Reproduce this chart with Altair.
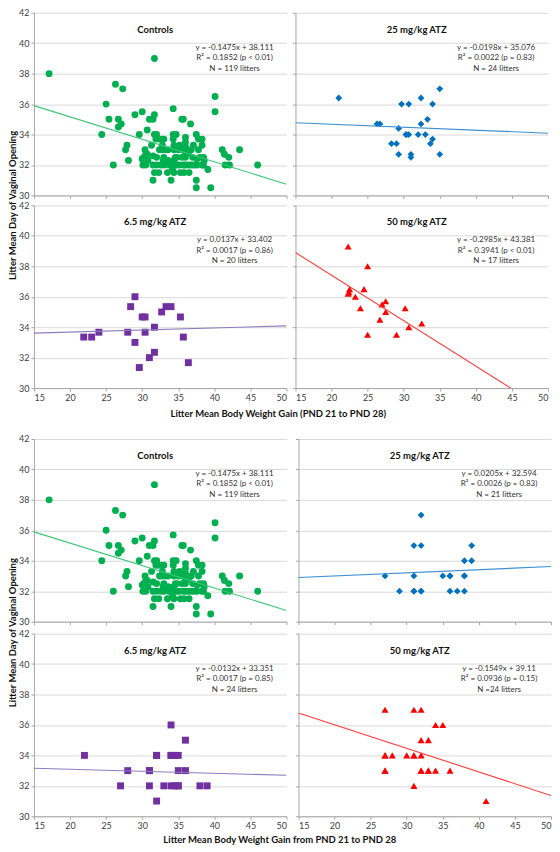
import altair as alt
import pandas as pd

FONT = "Lato"

# ---------------- data ----------------
ctrl_x = [17.1, 31.7, 26.3, 27.3, 25.0, 40.1, 40.1, 25.4, 24.4, 26.7,
          26.7, 27.1, 29.0, 30.0, 29.6, 30.7, 31.0, 31.7, 31.5, 34.3,
          35.5, 35.7, 36.7, 27.9, 27.7, 28.1, 26.0, 30.0, 30.4, 30.5,
          30.5, 30.2, 31.5, 31.7, 32.0, 32.3, 32.7, 33.0, 31.5, 31.5,
          32.0, 32.4, 32.6, 33.0, 33.0, 32.7, 33.2, 33.5, 34.0, 34.2,
          33.6, 34.3, 34.3, 34.4, 34.4, 34.4, 34.6, 34.8, 34.1, 35.1,
          35.3, 35.8, 36.0, 36.0, 36.0, 36.0, 36.0, 36.4, 36.8, 37.0,
          36.4, 36.8, 37.5, 37.8, 38.3, 38.3, 37.5, 37.5, 39.5, 37.6,
          38.0, 38.5, 37.6, 38.3, 38.5, 39.1, 41.1, 41.4, 42.0, 41.5,
          42.1, 43.5, 46.0, 31.7, 32.3, 35.2, 35.6, 35.5, 33.6, 32.0,
          30.8, 32.8, 31.9, 37.1, 37.8, 35.7, 34.4, 36.5, 35.0, 32.9,
          38.6, 31.3, 30.7, 34.8, 36.0, 34.7, 33.7, 37.2, 30.1]
ctrl_y = [38.0, 39.0, 37.3, 37.0, 36.0, 36.5, 35.5, 35.0, 34.0, 35.0,
          34.5, 34.7, 35.3, 35.5, 34.0, 34.3, 35.0, 35.3, 35.0, 35.7,
          35.0, 35.0, 34.7, 33.3, 33.0, 32.3, 32.0, 32.4, 33.0, 32.7,
          32.0, 32.5, 31.0, 34.0, 34.0, 33.7, 33.7, 33.7, 32.6, 32.0,
          32.0, 33.0, 32.0, 32.0, 32.5, 33.0, 33.0, 31.5, 31.0, 31.7,
          33.0, 34.0, 33.7, 33.3, 33.0, 32.3, 32.5, 32.0, 32.0, 32.0,
          31.5, 31.5, 33.5, 33.2, 32.8, 32.5, 32.0, 32.8, 33.0, 32.5,
          32.0, 32.0, 34.0, 33.7, 33.7, 33.3, 31.0, 30.5, 30.5, 32.4,
          32.5, 32.5, 32.0, 32.0, 32.0, 31.7, 33.0, 32.7, 32.5, 32.0,
          32.0, 33.0, 32.0, 31.5, 31.5, 33.3, 33.0, 32.5, 32.3, 32.5,
          32.3, 33.3, 33.7, 33.3, 33.0, 32.0, 31.5, 31.5, 33.0, 32.3,
          32.3, 33.3, 32.7, 32.5, 33.8, 34.0, 32.0, 32.0, 32.0]

# Figure 1 (top)
f1_25_x = [21.0, 26.3, 26.7, 29.7, 30.7, 32.4, 34.0, 35.0, 33.3, 32.4, 29.3, 30.3,
           30.7, 32.0, 33.0, 34.0, 33.7, 28.3, 29.0, 29.3, 31.0, 31.0, 35.0, 30.4]
f1_25_y = [36.4, 34.7, 34.7, 36.0, 36.0, 36.4, 36.0, 37.0, 35.0, 34.7, 34.4, 34.0,
           34.0, 34.0, 34.0, 33.7, 33.4, 33.4, 33.4, 32.7, 32.7, 32.5, 32.7, 34.0]
f1_65_x = [21.9, 23.0, 24.0, 28.0, 28.4, 29.0, 29.0, 29.6, 30.0, 30.4,
           30.4, 31.0, 31.7, 31.7, 32.7, 33.3, 34.0, 35.3, 35.7, 36.4]
f1_65_y = [33.35, 33.35, 33.67, 33.67, 35.35, 36.0, 33.0, 31.35, 34.67, 34.67,
           33.67, 32.0, 34.0, 32.35, 35.0, 35.35, 35.35, 34.67, 33.35, 31.67]
f1_50_x = [22.3, 25.0, 22.4, 22.5, 22.3, 23.3, 24.5, 24.0, 27.0, 27.5,
           27.5, 26.7, 30.2, 30.7, 32.5, 25.0, 29.0]
f1_50_y = [39.3, 38.0, 36.3, 36.5, 36.2, 36.0, 36.5, 35.24, 35.5, 35.7,
           35.0, 34.5, 35.24, 34.0, 34.24, 33.5, 33.5]

# Figure 2 (bottom)
f2_25_x = [32, 31, 32, 39, 38, 39, 27, 31, 35, 36, 38, 29, 31, 32, 36, 37, 38, 31, 32, 36, 38]
f2_25_y = [37, 35, 35, 35, 34, 34, 33, 33, 33, 33, 33, 32, 32, 32, 32, 32, 32, 32, 32, 33, 33]
f2_65_x = [22, 27, 28, 31, 31, 32, 32, 33, 34, 34, 34.5, 35, 34, 34.5, 35, 35, 36, 36, 38, 39,
           34, 35, 31, 32]
f2_65_y = [34, 32, 33, 33, 32, 34, 31, 32, 36, 34, 34, 34, 32, 32, 33, 32, 35, 33, 32, 32,
           34, 32, 33, 34]
f2_50_x = [27, 31, 32, 34, 35, 32, 33, 27, 28, 30, 31, 32, 27, 32, 33, 34, 36, 31, 41,
           27, 31, 32, 33, 27]
f2_50_y = [37, 37, 37, 36, 36, 35, 35, 34, 34, 34, 34, 34, 33, 33, 33, 33, 33, 32, 31,
           34, 34, 33, 33, 33]

panel_titles = ["Controls", "25 mg/kg ATZ", "6.5 mg/kg ATZ", "50 mg/kg ATZ"]
f1_eq = [["y = -0.1475x + 38.111", "R\u00b2 = 0.1852 (p < 0.01)", "N = 119 litters"],
         ["y = -0.0198x + 35.076", "R\u00b2 = 0.0022 (p = 0.83)", "N = 24 litters"],
         ["y = 0.0137x + 33.402", "R\u00b2 = 0.0017 (p = 0.86)", "N = 20 litters"],
         ["y = -0.2985x + 43.381", "R\u00b2 = 0.3941 (p < 0.01)", "N = 17 litters"]]
f1_fit = [(-0.1475, 38.111), (-0.0198, 35.076), (0.0137, 33.402), (-0.2985, 43.381)]
f2_eq = [["y = -0.1475x + 38.111", "R\u00b2 = 0.1852 (p < 0.01)", "N = 119 litters"],
         ["y = 0.0205x + 32.594", "R\u00b2 = 0.0026 (p = 0.83)", "N = 21 litters"],
         ["y = -0.0132x + 33.351", "R\u00b2 = 0.0017 (p = 0.85)", "N = 24 litters"],
         ["y = -0.1549x + 39.11", "R\u00b2 = 0.0936 (p = 0.15)", "N =24 litters"]]
f2_fit = [(-0.1475, 38.111), (0.0205, 32.594), (-0.0132, 33.351), (-0.1549, 39.11)]

y_title = "Litter Mean Day of Vaginal Opening"
f1_x_title = "Litter Mean Body Weight Gain (PND 21 to PND 28)"
f2_x_title = "Litter Mean Body Weight Gain from PND 21 to PND 28"

x_ticks = [15, 20, 25, 30, 35, 40, 45, 50]
y_ticks = [30, 32, 34, 36, 38, 40, 42]

# ---------------- styles ----------------
shapes = ["circle", "diamond", "square", "triangle-up"]
colors = ["#00B050", "#0070C0", "#7030A0", "#FF0000"]
line_colors = ["#3CC878", "#3A8FD0", "#8C7CBE", "#FF3B3B"]
sizes = [48, 46, 48, 50]

W = 253
H = 183


def panel(xs, ys, idx, fit, eq_lines, show_x_labels, show_y_labels):
    df = pd.DataFrame({"x": xs, "y": ys})
    xs_ = alt.Scale(domain=[15, 50], nice=False, zero=False)
    ys_ = alt.Scale(domain=[30, 42], nice=False, zero=False)
    x_enc = alt.X("x:Q", scale=xs_, axis=alt.Axis(values=x_ticks, tickCount=20, format="d",
                                                  labels=show_x_labels,
                                                  labelOverlap=False, title=None,
                                                  grid=False, ticks=True))
    y_enc = alt.Y("y:Q", scale=ys_, axis=alt.Axis(values=y_ticks, tickCount=20, format="d",
                                                  labels=show_y_labels,
                                                  labelOverlap=False, title=None,
                                                  grid=True, ticks=True))
    pts = alt.Chart(df).mark_point(shape=shapes[idx], filled=True, color=colors[idx],
                                   size=sizes[idx], opacity=1).encode(x=x_enc, y=y_enc)
    slope, icpt = fit
    tl = pd.DataFrame({"x": [15, 50], "y": [slope * 15 + icpt, slope * 50 + icpt]})
    line = alt.Chart(tl).mark_line(color=line_colors[idx], strokeWidth=1.1, clip=True).encode(
        x=alt.X("x:Q", scale=xs_), y=alt.Y("y:Q", scale=ys_))
    ttl = alt.Chart(pd.DataFrame({"t": [panel_titles[idx]]})).mark_text(
        font=FONT, fontWeight="bold", fontSize=9.5, color="#111111", align="center",
        baseline="middle").encode(x=alt.value(W * 0.48), y=alt.value(17), text="t:N")
    eq = alt.Chart(pd.DataFrame({"t": ["\n".join(eq_lines)]})).mark_text(
        font=FONT, fontSize=8, color="#333333", align="center", baseline="top",
        lineBreak="\n", lineHeight=10.5).encode(x=alt.value(201), y=alt.value(31), text="t:N")
    return alt.layer(pts, line, ttl, eq).properties(width=W, height=H)


def figure(data, eqs, fits, x_title, col_sp, row_sp, xt_offset):
    panels = []
    for i, (xs, ys) in enumerate(data):
        panels.append(panel(xs, ys, i, fits[i], eqs[i],
                            show_x_labels=(i >= 2), show_y_labels=(i % 2 == 0)))
    grid = alt.concat(*panels, columns=2, spacing={"row": row_sp, "column": col_sp},
                      bounds="flush",
                      title=alt.TitleParams(y_title, orient="left", anchor="middle",
                                            font=FONT, fontSize=9.5, fontWeight="bold",
                                            color="#111111", offset=1))
    return alt.vconcat(grid, title=alt.TitleParams(x_title, orient="bottom", anchor="middle",
                                                   font=FONT, fontSize=9.5, fontWeight="bold",
                                                   color="#111111", offset=xt_offset))


fig1 = figure([(ctrl_x, ctrl_y), (f1_25_x, f1_25_y), (f1_65_x, f1_65_y), (f1_50_x, f1_50_y)],
              f1_eq, f1_fit, f1_x_title, 9, 10, 7)
fig2 = figure([(ctrl_x, ctrl_y), (f2_25_x, f2_25_y), (f2_65_x, f2_65_y), (f2_50_x, f2_50_y)],
              f2_eq, f2_fit, f2_x_title, 12, 12, 5)

chart = alt.vconcat(fig1, fig2, spacing=16).properties(
    padding={"left": 0, "top": 0, "right": 0, "bottom": 0}
).configure_view(stroke=None).configure_axis(
    labelFont=FONT, labelFontSize=9, labelColor="#404040", labelPadding=2,
    domainColor="#A6A6A6", tickColor="#A6A6A6", tickSize=3, gridColor="#D9D9D9",
    domainWidth=1, gridWidth=1, tickWidth=1
).configure_concat(spacing=0)

chart.save("out.html", embed_options={"renderer": "svg", "actions": False})
